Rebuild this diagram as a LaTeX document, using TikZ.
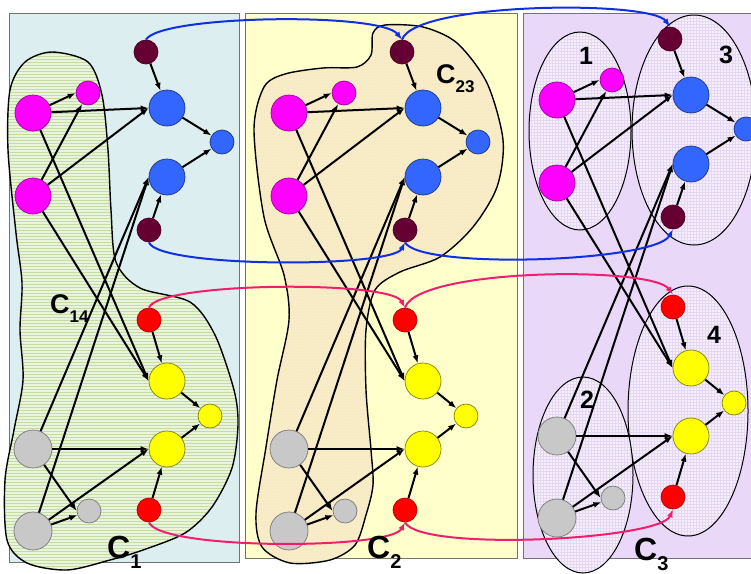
\documentclass[tikz,border=0pt]{standalone}
\usepackage{fontspec}
\setmainfont{Liberation Sans}
\usetikzlibrary{arrows.meta, patterns}
\definecolor{paneblue}{HTML}{DDEEF0}
\definecolor{paneyellow}{HTML}{FFFFCC}
\definecolor{panelilac}{HTML}{EAD8F8}
\definecolor{blobgreen}{HTML}{EAF3DC}
\definecolor{stripegreen}{HTML}{C3DCA2}
\definecolor{blobtan}{HTML}{F8EDC8}
\definecolor{dottan}{HTML}{EEDDAA}
\definecolor{ovallilac}{HTML}{F6F0FC}
\definecolor{gridlilac}{HTML}{E6D8F4}
\definecolor{nodemaroon}{HTML}{660033}
\definecolor{nodemagenta}{HTML}{FF00FF}
\definecolor{nodeblue}{HTML}{3366FF}
\definecolor{nodered}{HTML}{FF0000}
\definecolor{nodeyellow}{HTML}{FFFF00}
\definecolor{nodegray}{HTML}{C8C8C8}
\definecolor{arcblue}{HTML}{1030E0}
\definecolor{arcpink}{HTML}{EE1F6E}
\newcommand{\Csub}[3]{C\raisebox{-#3pt}{\fontsize{#2}{#2}\selectfont #1}}

\begin{document}
\begin{tikzpicture}[x=1pt, y=-1pt,
	ball/.style={circle, inner sep=0pt, line width=0.7pt},
	bigball/.style={ball, minimum size=36pt},
	smallball/.style={ball, minimum size=24pt},
	link/.style={line width=2pt, -{Latex[length=8pt,width=6pt]}},
	bluearc/.style={draw=arcblue, line width=2pt, -{Latex[length=8pt,width=6pt]}},
	pinkarc/.style={draw=arcpink, line width=2pt, -{Latex[length=8pt,width=6pt]}},
	bigname/.style={anchor=base west, inner sep=0pt, font=\bfseries\fontsize{32}{32}\selectfont},
	smallname/.style={anchor=base west, inner sep=0pt, font=\bfseries\fontsize{27}{27}\selectfont},
	numname/.style={inner sep=0pt, font=\bfseries\fontsize{25}{25}\selectfont}]
	\useasboundingbox (0,0) rectangle (751,573);
	% panels
	\draw[black!55, line width=0.8pt, fill=paneblue] (9,13) rectangle (239,562);
	\draw[black!55, line width=0.8pt, fill=paneyellow] (245,13) rectangle (517,558);
	\draw[black!55, line width=0.8pt, fill=panelilac] (523,13) rectangle (770,558);
	% cluster C14
	\draw[line width=1.4pt, preaction={fill=blobgreen}, pattern=horizontal lines, pattern color=stripegreen]
		plot[smooth cycle] coordinates {(52,52) (88,62) (102,95) (108,150) (111,210) (116,262)
		(140,288) (190,302) (215,335) (234,390) (238,425) (232,468) (212,507) (185,533)
		(143,550) (110,560) (67,570) (27,563) (7,540) (5,480) (14,430) (23,380) (20,330)
		(22,283) (16,233) (8,150) (10,90) (25,62)};
	% cluster C23
	\draw[line width=1.4pt, preaction={fill=blobtan}, pattern=dots, pattern color=dottan]
		plot[smooth cycle] coordinates {(373,33) (385,25) (423,27) (457,43) (487,83) (503,140)
		(497,187) (473,227) (440,257) (400,272) (375,290) (366,330) (366,390) (371,450)
		(373,485) (366,515) (355,545) (330,560) (290,563) (262,547) (256,513) (266,447)
		(277,380) (289,320) (284,275) (264,217) (254,130) (264,87) (285,74) (323,68)
		(357,67) (371,55)};
	% clusters of C3
	\draw[line width=1pt, preaction={fill=ovallilac}, pattern=grid, pattern color=gridlilac]
		(580,131) ellipse [x radius=51, y radius=99];
	\draw[line width=1pt, preaction={fill=ovallilac}, pattern=grid, pattern color=gridlilac]
		(694,130) ellipse [x radius=62, y radius=115];
	\draw[line width=1pt, preaction={fill=ovallilac}, pattern=grid, pattern color=gridlilac]
		(688,411) ellipse [x radius=60, y radius=125];
	\draw[line width=1pt, preaction={fill=ovallilac}, pattern=grid, pattern color=gridlilac]
		(583,475) ellipse [x radius=50, y radius=98];
	% the same network in each panel
	\foreach \p/\dx/\dy in {1/0/0, 2/256/0, 3/524/-13} {
		\begin{scope}[shift={(\dx,\dy)}]
			\node[smallball, fill=nodemaroon, draw=nodemaroon!70!black] (mt\p) at (146,52) {};
			\node[bigball, fill=nodemagenta, draw=nodemagenta!60!black] (mgA\p) at (33,113) {};
			\node[smallball, fill=nodemagenta, draw=nodemagenta!60!black] (mgs\p) at (88,93) {};
			\node[bigball, fill=nodemagenta, draw=nodemagenta!60!black] (mgB\p) at (33,196) {};
			\node[bigball, fill=nodeblue, draw=nodeblue!50!black] (blA\p) at (167,108) {};
			\node[smallball, fill=nodeblue, draw=nodeblue!50!black] (bls\p) at (222,142) {};
			\node[bigball, fill=nodeblue, draw=nodeblue!50!black] (blB\p) at (167,177) {};
			\node[smallball, fill=nodemaroon, draw=nodemaroon!70!black] (mb\p) at (149,230) {};
			\node[smallball, fill=nodered, draw=nodered!70!black] (rt\p) at (149,320) {};
			\node[bigball, fill=nodeyellow, draw=nodeyellow!50!black] (yeA\p) at (167,381) {};
			\node[smallball, fill=nodeyellow, draw=nodeyellow!50!black] (yes\p) at (210,416) {};
			\node[bigball, fill=nodeyellow, draw=nodeyellow!50!black] (yeB\p) at (167,449) {};
			\node[smallball, fill=nodered, draw=nodered!70!black] (rb\p) at (149,510) {};
			\node[bigball, minimum size=38pt, fill=nodegray, draw=nodegray!60!black] (grA\p) at (33,449) {};
			\node[smallball, fill=nodegray, draw=nodegray!60!black] (grs\p) at (89,511) {};
			\node[bigball, minimum size=38pt, fill=nodegray, draw=nodegray!60!black] (grB\p) at (33,531) {};
		\end{scope}
		\foreach \a/\b in {mt/blA, mgB/mgs, blA/bls, blB/bls, mb/blB,
			rt/yeA, yeA/yes, yeB/yes, rb/yeB, grB/grs}
			\draw[link] (\a\p) -- (\b\p);
		% long links come in from the left
		\foreach \a/\b in {mgA/mgs, mgA/blA, mgB/blA, mgA/yeA, mgB/yeA,
			grA/blB, grB/blB, grA/yeB, grB/yeB, grA/grs}
			\draw[link] (\a\p) -- (\b\p.west);
	}
	% moves between panels
	\draw[bluearc] (mt1.north) .. controls (160,15) and (380,12) .. (mt2.north);
	\draw[bluearc] (mt2.north) .. controls (415,2) and (650,0) .. (mt3.north);
	\draw[bluearc] (mb1.south) .. controls (158,268) and (392,268) .. (mb2.south);
	\draw[bluearc] (mb2.south) .. controls (420,270) and (655,262) .. (mb3.south);
	\draw[pinkarc] (rt1.north) .. controls (158,282) and (390,280) .. (rt2.north);
	\draw[pinkarc] (rt2.north) .. controls (418,268) and (652,266) .. (rt3.north);
	\draw[pinkarc] (rb1.south) .. controls (160,550) and (390,550) .. (rb2.south);
	\draw[pinkarc] (rb2.south) .. controls (420,552) and (660,540) .. (rb3.south);
	% names
	\node[smallname] (c14) at (50,313) {\Csub{14}{17}{9}};
	\node[smallname] (c23) at (436,83) {\Csub{23}{17}{9}};
	\node[bigname] (c1) at (107,558) {\Csub{1}{20}{10}};
	\node[bigname] (c2) at (367,558) {\Csub{2}{20}{10}};
	\node[bigname] (c3) at (634,560) {\Csub{3}{20}{10}};
	\node[numname] (k1) at (586,56) {1};
	\node[numname] (k3) at (726,55) {3};
	\node[numname] (k2) at (587,400) {2};
	\node[numname] (k4) at (714,335) {4};
\end{tikzpicture}
\end{document}
